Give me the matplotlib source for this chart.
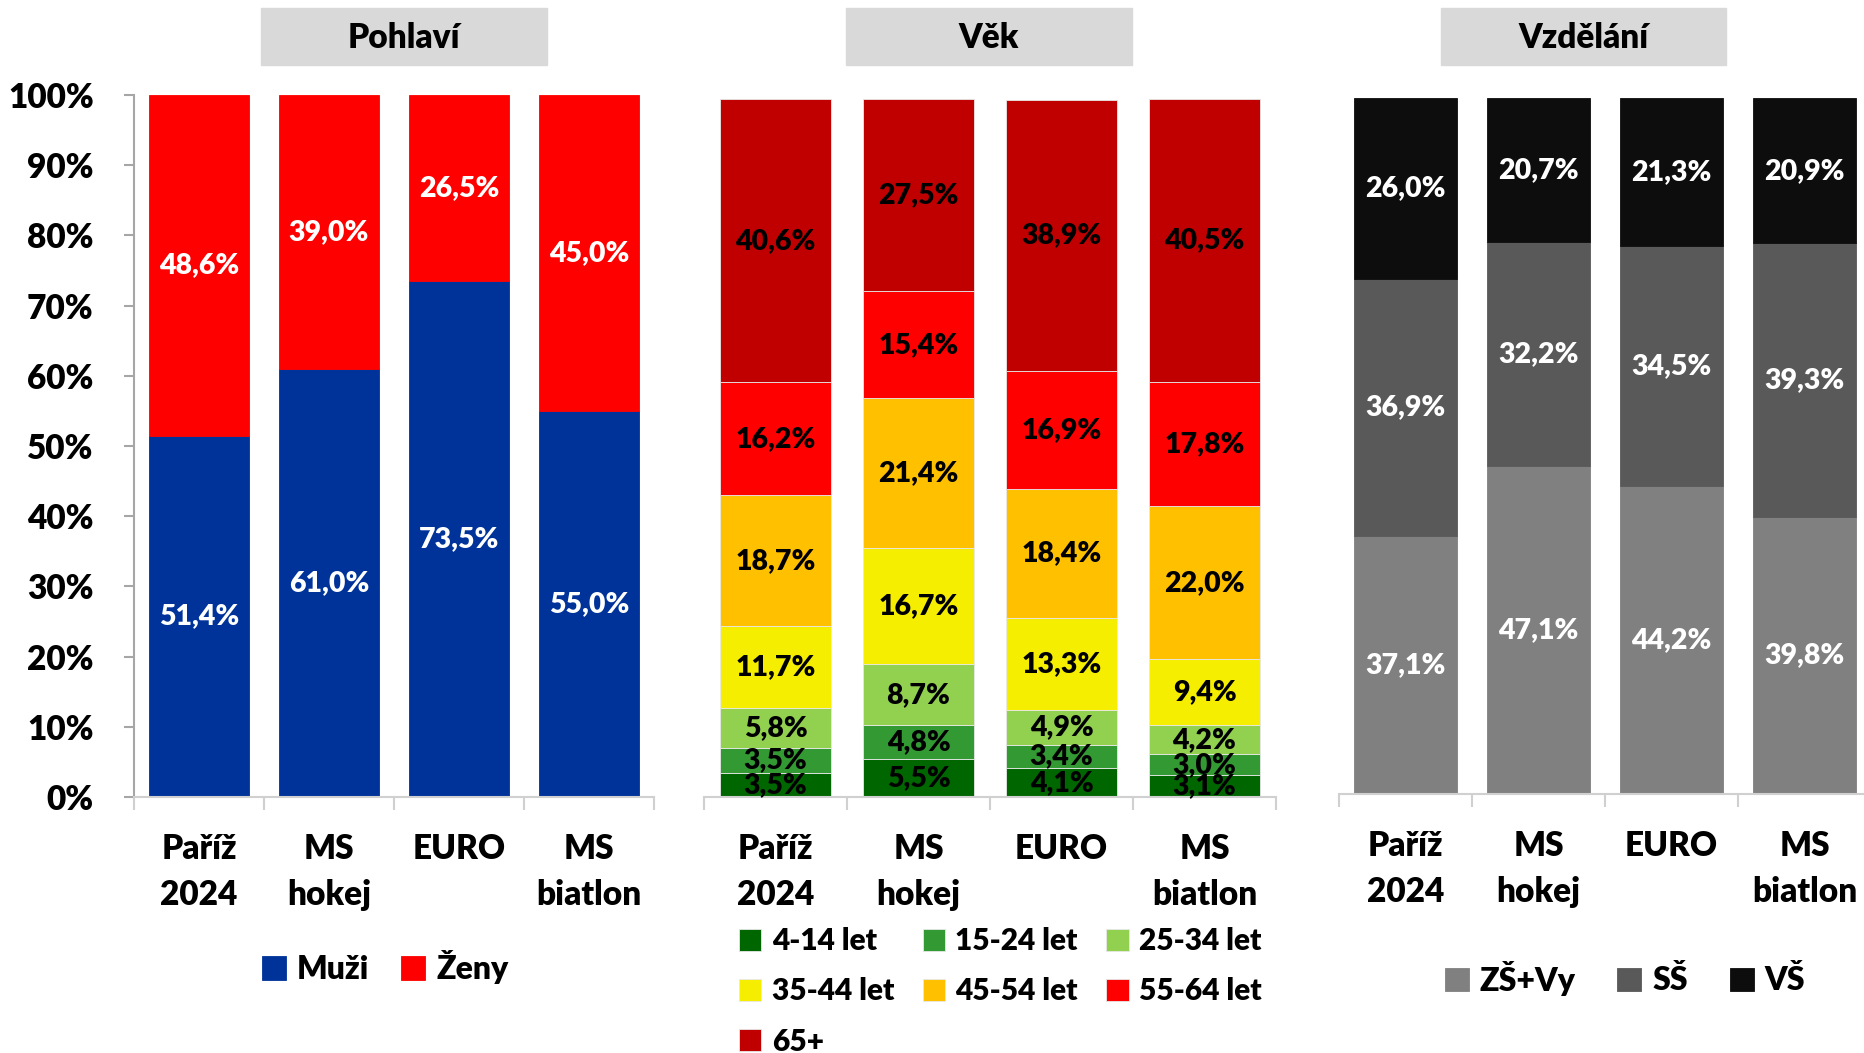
import matplotlib
matplotlib.use('Agg')
import matplotlib.pyplot as plt
from matplotlib.patches import Rectangle
import numpy as np

plt.rcParams['font.family'] = ['Lato', 'DejaVu Sans']
plt.rcParams['font.weight'] = 'bold'

events = ['Paříž\n2024', 'MS\nhokej', 'EURO', 'MS\nbiatlon']

# Pohlaví
gender_names = ['Muži', 'Ženy']
muzi = [51.4, 61.0, 73.5, 55.0]
zeny = [48.6, 39.0, 26.5, 45.0]

# Věk
age_names = ['4-14 let', '15-24 let', '25-34 let', '35-44 let', '45-54 let', '55-64 let', '65+']
age_4_14 = [3.5, 5.5, 4.1, 3.1]
age_15_24 = [3.5, 4.8, 3.4, 3.0]
age_25_34 = [5.8, 8.7, 4.9, 4.2]
age_35_44 = [11.7, 16.7, 13.3, 9.4]
age_45_54 = [18.7, 21.4, 18.4, 22.0]
age_55_64 = [16.2, 15.4, 16.9, 17.8]
age_65 = [40.6, 27.5, 38.9, 40.5]

# Vzdělání
edu_names = ['ZŠ+Vy', 'SŠ', 'VŠ']
zs_vy = [37.1, 47.1, 44.2, 39.8]
ss = [36.9, 32.2, 34.5, 39.3]
vs = [26.0, 20.7, 21.3, 20.9]

W, H = 1864, 1053
WEIGHT = 'heavy'
fig = plt.figure(figsize=(W / 100, H / 100), dpi=100)


def px_box(x0, y0, x1, y1):
    # pixel box (top-left origin) -> figure fraction
    return [x0 / W, 1 - y1 / H, (x1 - x0) / W, (y1 - y0) / H]


def pct(v):
    return f'{v:.1f}'.replace('.', ',') + '%'


def stacked(ax, series, colors, names, txt_color, edge=None):
    x = np.arange(len(events))
    bottom = np.zeros(len(events))
    handles = []
    for vals, c, n in zip(series, colors, names):
        bars = ax.bar(x, vals, 0.77, bottom=bottom, color=c, label=n,
                      edgecolor=edge if edge else c, linewidth=0.6)
        ax.bar_label(bars, labels=[pct(v) for v in vals], label_type='center',
                     color=txt_color, fontsize=20.5, fontweight=WEIGHT)
        bottom += np.array(vals)
        handles.append(bars)
    ax.set_xlim(-0.5, 3.5)
    ax.set_ylim(0, 100)
    ax.set_xticks(x)
    ax.set_xticklabels(events, fontsize=24, linespacing=1.55, fontweight=WEIGHT)
    ax.tick_params(axis='x', which='major', length=0, pad=26)
    ax.set_xticks([-0.5, 0.5, 1.5, 2.5, 3.5], minor=True)
    ax.tick_params(axis='x', which='minor', length=9, width=1.5, color='#D0D0D0')
    for s in ['top', 'right']:
        ax.spines[s].set_visible(False)
    ax.spines['bottom'].set_color('#D0D0D0')
    ax.spines['bottom'].set_linewidth(1.5)
    return handles


ax1 = fig.add_axes(px_box(134, 95, 654, 797))
ax2 = fig.add_axes(px_box(704, 99, 1276, 797))
ax3 = fig.add_axes(px_box(1339, 98, 1871, 794))

h1 = stacked(ax1, [muzi, zeny], ['#003399', '#FF0000'], gender_names, 'white')
h2 = stacked(ax2, [age_4_14, age_15_24, age_25_34, age_35_44, age_45_54, age_55_64, age_65],
             ['#006600', '#339933', '#92D050', '#F5EE00', '#FFC000', '#FF0000', '#C00000'],
             age_names, 'black', edge='#E8E8E8')
h3 = stacked(ax3, [zs_vy, ss, vs], ['#808080', '#595959', '#0D0D0D'], edu_names, 'white')

ax1.set_yticks(range(0, 101, 10))
ax1.set_yticklabels([f'{v}%' for v in range(0, 101, 10)], fontsize=24, fontweight=WEIGHT)
ax1.tick_params(axis='y', length=7, width=1.5, color='#A6A6A6', pad=22)
ax1.spines['left'].set_color('#A6A6A6')
ax1.spines['left'].set_linewidth(1.5)
for ax in (ax2, ax3):
    ax.spines['left'].set_visible(False)
    ax.set_yticks([])

# panel titles
for x0, x1, title in [(261, 547, 'Pohlaví'), (846, 1132, 'Věk'), (1441, 1726, 'Vzdělání')]:
    fig.patches.append(Rectangle((x0 / W, 1 - 65 / H), (x1 - x0) / W, 57 / H,
                                 transform=fig.transFigure, color='#D9D9D9', zorder=0))
    fig.text((x0 + x1) / 2 / W, 1 - 38 / H, title, ha='center', va='center',
             fontsize=24, fontweight=WEIGHT)

leg_kw = dict(frameon=False, handlelength=0.75, handleheight=0.75, handletextpad=0.35,
              bbox_transform=fig.transFigure, borderpad=0, borderaxespad=0,
              prop={'size': 23, 'weight': WEIGHT})

fig.legend(h1, gender_names, ncol=2, loc='center', bbox_to_anchor=(385 / W, 1 - 967 / H),
           columnspacing=1.0, **leg_kw)

order = [0, 3, 6, 1, 4, 2, 5]
leg_kw2 = dict(leg_kw, prop={'size': 21.5, 'weight': WEIGHT})
fig.legend([h2[i] for i in order], [age_names[i] for i in order], ncol=3, loc='upper left',
           bbox_to_anchor=(739 / W, 1 - 927 / H), columnspacing=0.95, labelspacing=0.75,
           **leg_kw2)

fig.legend(h3, edu_names, ncol=3, loc='center', bbox_to_anchor=(1625 / W, 1 - 978 / H),
           columnspacing=1.3, **leg_kw)

fig.savefig('out.png', dpi=100)
